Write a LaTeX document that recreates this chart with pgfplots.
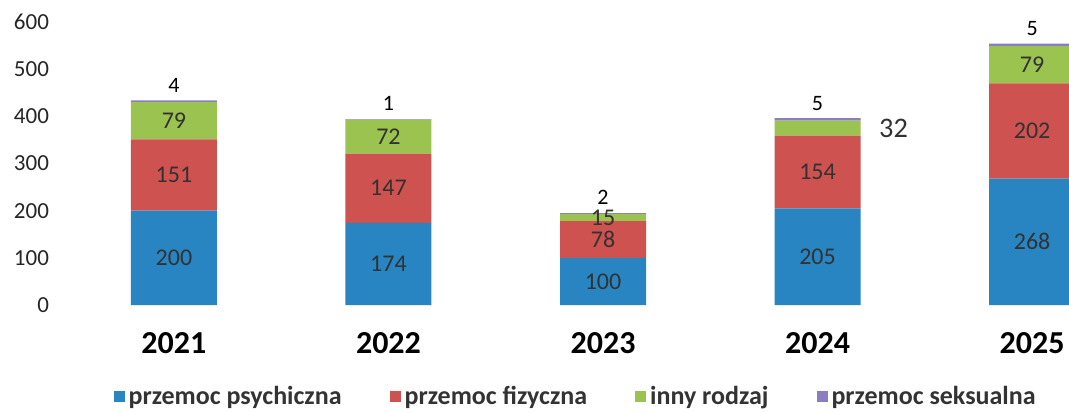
\documentclass[border=0pt]{standalone}
\usepackage{pgfplots}
\pgfplotsset{compat=1.18}
\usepackage{pgfplotstable}
\usepackage{fontspec}
\setmainfont{Carlito}
\definecolor{cblue}{RGB}{40,133,194}
\definecolor{cred}{RGB}{206,82,80}
\definecolor{cgreen}{RGB}{155,195,80}
\definecolor{cpurple}{RGB}{140,124,192}
\definecolor{lbl}{RGB}{50,50,50}
\pgfplotstableread{
x  v
0  200
1  174
2  100
3  205
4  268
}\psych
\pgfplotstableread{
x  v
0  151
1  147
2  78
3  154
4  202
}\fiz
\pgfplotstableread{
x  v   dx    sc
0  79  0     1
1  72  0     1
2  15  0     1
3  32  38    1.18
4  79  0     1
}\inny
\pgfplotstableread{
x  v
0  4
1  1
2  2
3  5
4  5
}\seks
\begin{document}
\begin{tikzpicture}
\begin{axis}[
  at={(0,0)}, anchor=south west,
  scale only axis,
  width=504.5pt, height=141.5pt,
  xmin=-0.531, xmax=4.172,
  ymin=0, ymax=600,
  ybar stacked, bar width=43pt,
  axis line style={draw=none},
  major tick length=0pt,
  xtick={0,1,2,3,4},
  xticklabels={2021,2022,2023,2024,2025},
  xticklabel style={font=\fontsize{16}{16}\selectfont\bfseries, yshift=-10pt},
  ytick={0,100,...,600},
  yticklabel style={font=\fontsize{11.5}{12}\selectfont, text=black!85, xshift=-2pt},
  /pgf/number format/assume math mode=true,
  legend columns=4,
  legend style={draw=none, at={(0.512,-0.325)}, anchor=center,
    font=\fontsize{13}{13}\selectfont\bfseries, text=black!80,
    /tikz/every even column/.append style={column sep=22pt}},
  legend cell align=left,
  legend image code/.code={\fill[#1] (0pt,-2.75pt) rectangle (5.5pt,2.75pt);},
]
\addplot[fill=cblue, draw=none,
  nodes near coords,
  nodes near coords style={font=\fontsize{12}{12}\selectfont, text=lbl, anchor=center}]
  table[x=x,y=v] {\psych};
\addplot[fill=cred, draw=none,
  nodes near coords,
  nodes near coords style={font=\fontsize{12}{12}\selectfont, text=lbl, anchor=center}]
  table[x=x,y=v] {\fiz};
\addplot[fill=cgreen, draw=none,
  visualization depends on={\thisrow{dx} \as \ddx},
  visualization depends on={\thisrow{sc} \as \ssc},
  nodes near coords,
  nodes near coords style={font=\fontsize{12}{12}\selectfont, text=lbl, anchor=center, xshift={\ddx*1pt}, scale=\ssc}]
  table[x=x,y=v] {\inny};
\addplot[fill=cpurple, draw=none,
  nodes near coords,
  nodes near coords style={font=\fontsize{11}{11}\selectfont, text=black, anchor=south, yshift=1pt}]
  table[x=x,y=v] {\seks};
\legend{przemoc psychiczna, przemoc fizyczna, inny rodzaj, przemoc seksualna}
\end{axis}
\pgfresetboundingbox
\path[use as bounding box] (-30pt,-53.5pt) rectangle (504.5pt,152.5pt);
\end{tikzpicture}
\end{document}
